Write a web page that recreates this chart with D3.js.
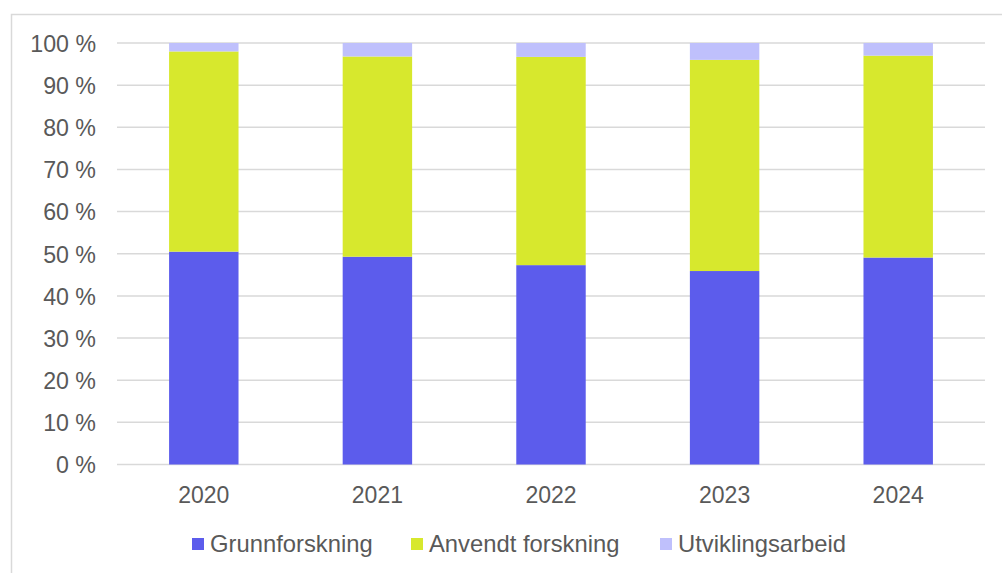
<!DOCTYPE html>
<meta charset="utf-8">
<title>FoU-andeler etter aktivitetstype</title>
<style>
body {
  margin: 0px;
  background: white;
  font-family: "Liberation Sans", Arial, sans-serif;
}
.grid line {
  stroke: #d9d9d9;
  stroke-width: 1.5px;
}
.axis text, .legend text {
  fill: #595959;
}
</style>
<body>
<svg id="chart" width="1002" height="573"></svg>
</body>
<script src="https://cdn.jsdelivr.net/npm/d3@7"></script>
<script>

// data (shares in percent)
var years = ["2020", "2021", "2022", "2023", "2024"];
var grunnforskning = [50.5, 49.3, 47.3, 45.9, 49.1];
var anvendt = [47.5, 47.5, 49.4, 50.1, 47.9];
var utvikling = [2.0, 3.2, 3.3, 4.0, 3.0];
var seriesNames = ["Grunnforskning", "Anvendt forskning", "Utviklingsarbeid"];
var seriesColors = ["#5c5cec", "#d7e82d", "#bfc0fc"];
var yTicks = [0, 10, 20, 30, 40, 50, 60, 70, 80, 90, 100];

var rows = years.map(function(y, i) {
  return {year: y, g: grunnforskning[i], a: anvendt[i], u: utvikling[i]};
});

var svg = d3.select("#chart");

// frame round the chart
svg.append("rect")
  .attr("x", 11.5).attr("y", 14.5)
  .attr("width", 1002).attr("height", 573)
  .style("fill", "none")
  .style("stroke", "#d9d9d9")
  .style("stroke-width", 1.5);

var x = d3.scaleBand().domain(years).range([117, 985]).paddingInner(0.6).paddingOuter(0.3);
var y = d3.scaleLinear().domain([0, 100]).range([464.5, 43]);

// gridlines
svg.append("g").attr("class", "grid")
  .selectAll("line")
  .data(yTicks)
  .enter().append("line")
  .attr("x1", 117).attr("x2", 985)
  .attr("y1", function(d) { return y(d); })
  .attr("y2", function(d) { return y(d); });

// y axis labels
var yAxis = d3.axisLeft(y).tickValues(yTicks).tickSize(0).tickPadding(21)
  .tickFormat(function(d) { return d + " %"; });
svg.append("g").attr("class", "axis")
  .attr("transform", "translate(117,0)")
  .call(yAxis)
  .call(function(g) { g.select(".domain").remove(); })
  .selectAll("text")
  .style("font-size", "23.2px")
  .style("font-family", "Liberation Sans, Arial, sans-serif")
  .attr("dy", "0.36em");

// x axis labels
var xAxis = d3.axisBottom(x).tickSize(0).tickPadding(22);
svg.append("g").attr("class", "axis")
  .attr("transform", "translate(0,464.5)")
  .call(xAxis)
  .call(function(g) { g.select(".domain").remove(); })
  .selectAll("text")
  .style("font-size", "23px")
  .style("font-family", "Liberation Sans, Arial, sans-serif");

// stacked bars
var stack = d3.stack().keys(["g", "a", "u"]);
var layers = stack(rows);

svg.append("g").selectAll("g")
  .data(layers)
  .enter().append("g")
  .style("fill", function(d, i) { return seriesColors[i]; })
  .selectAll("rect")
  .data(function(d) { return d; })
  .enter().append("rect")
  .attr("x", function(d) { return x(d.data.year); })
  .attr("width", x.bandwidth())
  .attr("y", function(d) { return y(d[1]); })
  .attr("height", function(d) { return y(d[0]) - y(d[1]); });

// legend
var legendX = [192, 411, 660];
var legend = svg.append("g").attr("class", "legend")
  .selectAll("g")
  .data(seriesNames)
  .enter().append("g")
  .attr("transform", function(d, i) { return "translate(" + legendX[i] + ",538)"; });

legend.append("rect")
  .attr("width", 12).attr("height", 12)
  .style("fill", function(d, i) { return seriesColors[i]; });

legend.append("text")
  .attr("x", 18).attr("y", 14)
  .style("font-size", "23.8px")
  .text(function(d) { return d; });

</script>
